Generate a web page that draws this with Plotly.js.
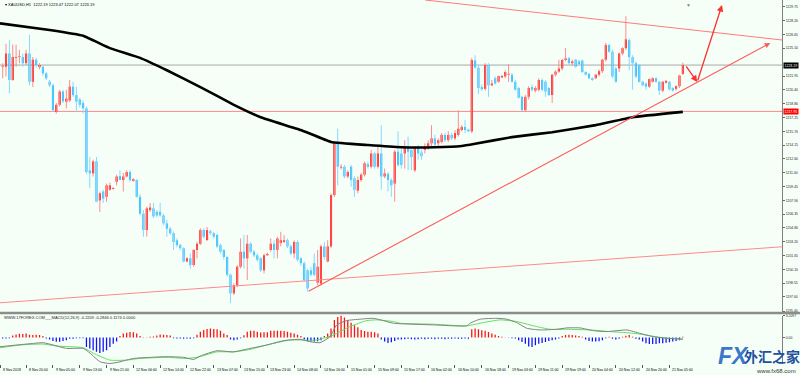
<!DOCTYPE html>
<html><head><meta charset="utf-8">
<script src="https://cdn.plot.ly/plotly-3.0.1.min.js"></script>
<style>html,body{margin:0;padding:0;background:#F5FFF8;}#chart{width:800px;height:375px;}</style>
</head><body><div id="chart"></div>
<script>
// ---- XAUUSD H1 candles (bar index 0..203) ----
const openP = [
1223.0,1223.0,1224.5,1221.5,1224.0,1224.1,1224.1,1223.4,1224.5,1221.3,
1223.8,1222.95,1223.0,1222.25,1221.3,1220.9,1217.9,1218.7,1220.2,1219.05,
1219.2,1220.75,1219.8,1219.3,1218.9,1218.3,1211.3,1210.95,1212.3,1207.9,
1208.9,1208.3,1209.1,1209.2,1210.0,1210.65,1210.2,1210.6,1211.1,1210.1,
1210.2,1208.3,1206.4,1204.55,1206.8,1207.0,1206.6,1206.6,1206.2,1205.3,
1204.7,1204.2,1203.4,1202.85,1202.5,1201.0,1201.35,1200.6,1202.3,1203.0,
1204.55,1203.4,1204.4,1204.2,1204.0,1202.85,1202.3,1201.5,1199.5,1197.4,
1198.3,1200.4,1202.1,1201.35,1203.0,1202.1,1201.7,1201.35,1200.0,1201.7,
1202.3,1203.0,1202.3,1203.1,1203.2,1203.4,1202.7,1201.9,1203.2,1201.35,
1200.8,1200.0,1200.0,1200.8,1198.6,1198.5,1202.7,1201.0,1202.7,1208.5,
1214.35,1211.6,1211.7,1210.6,1211.7,1210.4,1209.0,1210.2,1210.8,1212.0,
1211.7,1213.2,1211.7,1213.2,1210.6,1210.9,1210.2,1209.8,1213.4,1213.2,
1213.2,1214.0,1213.6,1211.3,1213.8,1213.3,1213.6,1214.0,1214.35,1214.9,
1214.35,1214.5,1215.3,1214.7,1215.3,1214.9,1215.3,1215.85,1216.2,1215.9,
1215.7,1223.7,1222.9,1220.7,1220.5,1223.2,1220.9,1221.7,1221.3,1221.8,
1221.9,1222.1,1222.1,1221.3,1220.6,1219.6,1218.1,1219.6,1220.7,1220.3,
1220.4,1221.5,1221.3,1220.6,1219.8,1222.1,1222.45,1222.8,1223.76,1223.95,
1223.4,1223.8,1223.6,1223.7,1222.4,1222.2,1221.7,1221.7,1222.1,1222.5,
1223.8,1225.45,1224.7,1222.8,1222.8,1224.5,1225.1,1226.0,1224.1,1223.4,
1223.2,1221.3,1221.1,1220.75,1221.3,1221.7,1221.3,1220.3,1221.2,1221.3,
1220.6,1220.5,1220.8,1222.19];
const highP = [
1223.4,1225.6,1226.0,1225.5,1225.5,1224.9,1224.5,1224.9,1226.6,1224.1,
1224.0,1223.4,1223.1,1222.4,1221.5,1221.1,1218.9,1220.4,1220.4,1220.4,
1221.5,1221.3,1220.75,1219.5,1219.2,1218.5,1212.8,1212.5,1212.8,1208.9,
1209.1,1209.8,1209.9,1209.4,1210.8,1211.3,1211.0,1211.3,1211.3,1210.4,
1210.3,1208.6,1206.8,1207.2,1207.6,1207.6,1206.8,1207.6,1206.4,1205.7,
1204.9,1204.4,1203.6,1203.0,1202.6,1201.5,1201.9,1202.4,1203.2,1204.75,
1204.75,1204.9,1204.6,1204.3,1204.1,1203.0,1202.4,1201.6,1199.65,1198.5,
1200.6,1203.6,1204.0,1204.0,1203.2,1202.3,1201.9,1201.5,1201.9,1202.0,
1203.6,1203.4,1203.8,1204.35,1204.0,1203.6,1202.9,1203.4,1203.4,1201.5,
1201.0,1200.2,1200.4,1201.9,1202.3,1202.9,1203.2,1203.4,1208.7,1214.5,
1216.0,1212.0,1211.9,1211.3,1211.9,1210.6,1210.6,1211.0,1212.3,1212.3,
1213.6,1213.4,1214.0,1216.4,1211.5,1211.1,1210.4,1213.6,1215.7,1213.8,
1214.7,1215.1,1213.8,1214.0,1214.2,1213.6,1214.35,1214.7,1216.4,1215.3,
1214.9,1215.5,1215.5,1215.7,1215.5,1215.85,1218.1,1216.4,1217.0,1216.0,
1224.0,1224.3,1223.2,1221.0,1223.4,1223.4,1221.5,1221.9,1222.0,1222.1,
1222.6,1223.3,1222.3,1221.5,1220.7,1219.7,1219.8,1220.8,1221.0,1220.8,
1221.7,1221.7,1221.5,1220.7,1222.2,1222.6,1223.8,1223.9,1225.1,1224.1,
1223.8,1223.9,1223.8,1223.8,1222.5,1222.3,1221.8,1222.2,1222.7,1223.9,
1225.7,1225.6,1224.9,1223.0,1224.6,1225.2,1228.7,1226.2,1224.3,1223.6,
1223.3,1221.4,1221.2,1221.7,1221.8,1221.8,1221.4,1221.4,1221.5,1221.4,
1220.7,1220.9,1222.1,1223.47];
const lowP = [
1221.7,1221.9,1220.0,1221.4,1223.0,1223.4,1223.0,1223.2,1220.9,1220.7,
1222.9,1222.7,1222.0,1221.5,1220.7,1217.9,1217.7,1218.5,1218.9,1218.3,
1219.0,1219.6,1217.9,1218.4,1217.7,1210.9,1209.3,1210.6,1207.7,1206.6,
1207.6,1207.75,1209.0,1209.1,1209.6,1210.2,1208.9,1210.5,1210.0,1210.0,
1208.2,1206.2,1203.8,1203.8,1206.6,1205.9,1206.0,1206.05,1205.1,1203.8,
1204.0,1202.3,1202.6,1202.3,1200.9,1200.9,1200.2,1200.4,1201.35,1202.85,
1203.6,1203.4,1204.0,1203.6,1202.5,1201.9,1201.2,1199.3,1196.3,1197.2,
1198.1,1200.2,1200.2,1198.9,1201.9,1201.5,1201.0,1199.8,1199.65,1201.6,
1202.1,1201.35,1201.35,1202.7,1203.1,1202.5,1201.7,1201.35,1201.0,1200.5,
1198.7,1197.6,1199.3,1199.3,1198.3,1198.3,1201.2,1200.9,1202.5,1208.3,
1209.6,1211.4,1210.4,1210.4,1209.45,1208.3,1208.7,1210.0,1210.6,1211.5,
1211.5,1211.5,1211.5,1209.1,1210.4,1208.9,1208.3,1207.75,1211.7,1211.5,
1211.5,1211.3,1211.3,1211.1,1212.5,1212.5,1213.2,1213.6,1213.8,1214.0,
1214.0,1214.35,1214.5,1214.5,1214.7,1214.7,1215.1,1215.7,1215.5,1215.6,
1215.5,1222.8,1219.9,1220.3,1220.3,1219.6,1220.8,1221.0,1221.2,1221.7,
1221.7,1221.3,1221.2,1220.3,1219.4,1218.0,1217.9,1219.3,1220.2,1220.1,
1220.2,1220.2,1219.6,1219.7,1218.9,1221.9,1222.3,1222.6,1223.6,1223.2,
1223.1,1222.9,1223.2,1222.3,1222.0,1221.6,1221.4,1221.6,1221.9,1222.3,
1223.6,1224.6,1221.7,1221.2,1222.4,1224.3,1224.9,1222.6,1220.4,1221.7,
1221.2,1220.8,1220.4,1220.6,1221.2,1221.2,1219.8,1220.1,1221.1,1220.3,
1220.2,1220.3,1220.6,1222.07];
const closeP = [
1223.05,1224.5,1221.5,1224.1,1224.1,1224.15,1223.4,1224.5,1221.3,1223.8,
1223.2,1223.2,1222.25,1221.7,1220.9,1218.1,1218.7,1220.2,1219.1,1219.4,
1220.75,1219.8,1219.05,1218.7,1218.3,1211.1,1210.95,1212.3,1207.75,1208.7,
1208.1,1209.6,1209.6,1209.3,1210.6,1210.2,1210.6,1211.1,1210.2,1210.3,
1208.3,1206.4,1204.55,1207.0,1207.1,1206.1,1206.2,1206.2,1205.3,1204.7,
1204.2,1203.2,1202.85,1202.5,1201.0,1201.35,1200.6,1202.3,1203.0,1204.55,
1203.8,1204.55,1204.2,1203.8,1202.7,1202.1,1201.5,1199.5,1197.4,1198.3,
1200.4,1202.1,1201.35,1203.0,1202.1,1201.7,1201.2,1200.0,1201.7,1201.85,
1203.0,1202.3,1203.6,1203.4,1203.4,1202.7,1201.9,1203.2,1201.2,1200.8,
1198.9,1197.95,1199.5,1199.5,1200.4,1202.7,1201.5,1202.7,1208.5,1214.35,
1211.7,1211.7,1210.6,1211.1,1210.2,1209.1,1210.2,1210.8,1212.1,1211.7,
1213.2,1211.7,1213.2,1210.6,1210.95,1210.2,1209.6,1213.4,1211.9,1211.9,
1214.0,1213.4,1212.8,1213.8,1213.2,1212.9,1213.97,1214.35,1214.9,1214.2,
1214.7,1215.3,1214.7,1215.3,1214.9,1215.5,1216.0,1216.2,1215.85,1215.7,
1223.76,1222.9,1220.6,1220.45,1223.2,1220.9,1221.1,1221.1,1221.95,1221.95,
1222.4,1222.2,1221.3,1220.4,1219.5,1218.1,1219.6,1220.6,1220.4,1220.6,
1221.5,1220.4,1220.2,1219.8,1222.1,1222.45,1222.8,1223.76,1223.95,1223.4,
1223.6,1223.0,1223.3,1222.4,1222.1,1221.7,1221.5,1222.1,1222.5,1223.8,
1225.45,1224.7,1221.9,1221.3,1224.5,1225.1,1226.1,1224.1,1223.4,1221.9,
1221.3,1220.9,1220.75,1221.6,1221.7,1221.3,1220.3,1221.3,1221.4,1220.45,
1220.3,1220.8,1222.0,1223.19];

// ---- moving average (black), read at selected bars ----
const maIdx = [-0.8,14,24,32,41,49,59,69,77,89,98,109,119,129,137,141,152,164,177,188,203];
const maVal = [1227.9,1227.15,1226.5,1225.1,1224.0,1222.6,1220.7,1218.7,1217.3,1215.85,1214.5,1214.15,1213.9,1213.9,1214.05,1214.3,1215.05,1215.6,1216.4,1217.3,1217.9];

// ---- MACD histogram (one value per bar) ----
const macdHist = [
-0.15,-0.15,-0.1,0.3,0.45,0.55,0.5,0.6,0.4,0.35,
0.4,0.35,0.2,-0.15,-0.3,-0.5,-0.64,-0.64,-0.5,-0.4,
-0.2,-0.2,-0.1,-0.1,-0.1,-1.4,-1.6,-1.85,-2.1,-2.25,
-2.1,-1.85,-1.4,-0.9,-0.6,0.2,0.6,0.7,0.8,0.75,
0.6,0.2,-0.05,0.05,0.1,0.15,0.3,0.45,0.4,0.35,
0.3,-0.1,-0.15,-0.15,-0.2,-0.15,-0.2,-0.1,0.4,0.85,
1.1,1.25,1.3,1.25,1.2,1.0,0.6,0.35,-0.3,-0.4,
-0.3,-0.1,0.34,0.83,0.98,0.98,0.83,0.73,0.78,0.78,
0.98,0.98,0.98,0.98,0.93,0.83,0.68,0.59,0.39,0.2,
-0.3,-0.55,-0.6,-0.6,-0.55,-0.4,0.2,0.6,1.3,2.55,
3.0,3.2,2.9,2.55,2.15,1.8,1.5,1.1,0.95,0.85,
0.85,0.75,0.6,-0.3,-0.6,-0.8,-0.7,-0.5,-0.3,-0.3,
-0.25,-0.2,-0.25,-0.3,-0.25,-0.2,-0.25,-0.2,-0.2,-0.25,
-0.2,-0.2,-0.25,-0.2,-0.2,-0.15,-0.2,-0.2,-0.15,-0.2,
1.2,1.3,1.2,1.05,1.0,0.8,0.6,0.4,0.2,0.1,
0.05,-0.05,-0.1,-0.15,-0.4,-0.65,-0.9,-1.3,-1.4,-1.15,
-0.9,-0.8,-0.65,-0.5,-0.4,-0.3,-0.15,0.2,0.35,0.4,
0.35,0.3,0.2,0.1,-0.3,-0.5,-0.6,-0.6,-0.55,-0.4,
-0.1,0.1,-0.2,-0.3,-0.2,0.1,0.25,0.35,0.1,-0.2,
-0.3,-0.6,-0.85,-0.95,-0.95,-0.95,-0.85,-0.85,-0.75,-0.7,
-0.6,-0.5,-0.4,0.1174];

// ---- MACD main line (gray) and signal (green), read at selected bars ----
const macdIdx = [-0.8,4.2,9.2,12.1,15.1,19.1,24.1,26.1,29.1,32,35,39,44,49,54,57,59,63.9,68.9,73.8,78.8,83.8,88.8,91.7,94.7,97.7,99.7,102.7,106.7,110.6,113.6,116.6,128.6,138.5,139.5,142.5,147.5,150.5,153.4,156.4,160.4,165.4,168.4,172.3,176.3,180.3,186.3,190.2,194.2,198.2,203];
const macdVal = [-1.35,-1.1,-0.86,-0.76,-1.1,-1.6,-1.6,-2.3,-3.55,-3.8,-3.55,-3.06,-2.9,-2.8,-2.9,-3.2,-2.7,-1.94,-2.1,-1.6,-1.1,-0.47,-0.27,-0.61,-0.76,0.12,1.84,2.47,2.67,2.8,2.47,2.08,1.84,1.7,2.08,2.67,2.8,2.67,2.18,1.35,1.1,1.2,1.4,1.4,1.0,0.86,1.1,0.6,0.12,-0.12,-0.2209];
const sigIdx = [-0.8,5.2,12.1,16.1,24.1,27.1,32,37,41,49,54.9,58.9,63.9,68.9,73.8,78.8,85.8,93.7,98.7,103.7,108.7,111.6,116.6,118.6,128.6,138.5,143.5,148.5,153.4,158.4,163.4,168.4,175.3,181.3,186.3,190.2,196.2,203];
const sigVal = [-1.5,-1.1,-0.96,-1.25,-1.5,-2.3,-3.3,-3.3,-3.06,-2.9,-3.06,-2.8,-2.1,-2.1,-1.75,-1.1,-0.37,-0.37,0.37,1.6,2.47,2.57,2.33,2.08,1.94,1.7,2.18,2.57,2.33,1.7,1.2,1.2,1.1,0.86,0.7,0.5,0.02,-0.2846];

// ---- axis labels ----
const priceTicks = [1229.75,1228.20,1226.65,1225.10,1221.95,1220.40,1218.80,1217.25,1215.70,1214.15,1212.60,1211.00,1209.45,1207.90,1206.35,1204.80,1203.20,1201.65,1200.10,1198.55,1197.00,1195.40];
const priceTickText = ["1229.75","1228.20","1226.65","1225.10","1221.95","1220.40","1218.80","1217.25","1215.70","1214.15","1212.60","1211.00","1209.45","1207.90","1206.35","1204.80","1203.20","1201.65","1200.10","1198.55","1197.00","1195.40"];
const timeIdx = [-0.75,7,15,23,31,39,47,55,63,71,79,87,95,103,111,119,127,135,143,151,159,167,175,183,191,199];
const timeText = ["8 Nov 2018","8 Nov 20:00","9 Nov 05:00","9 Nov 13:00","9 Nov 21:00","12 Nov 06:00","12 Nov 14:00","12 Nov 22:00","13 Nov 07:00","13 Nov 15:00","13 Nov 23:00","14 Nov 08:00","14 Nov 16:00","15 Nov 01:00","15 Nov 09:00","15 Nov 17:00","16 Nov 02:00","16 Nov 10:00","16 Nov 18:00","19 Nov 03:00","19 Nov 11:00","19 Nov 19:00","20 Nov 04:00","20 Nov 12:00","20 Nov 20:00","21 Nov 05:00"];

const currentPrice = 1223.19;
const levelPrice = 1217.95;

// ---- drawing objects (bar index, price) ----
const lineTop = [[126.1,1230.54],[232.6,1226.02]];
const lineLow = [[-0.8,1196.33],[232.6,1202.66]];
const lineUp  = [[90.85,1197.54],[229.1,1225.68]];
const arrowPath = [[203.7,1223.2],[207.3,1221.27],[214.7,1229.98]];

const N = openP.length;
function wick(up){
  const xs=[],ys=[];
  for(let i=0;i<N;i++){ const u = closeP[i]>=openP[i]; if(u!==up) continue; xs.push(i,i,null); ys.push(lowP[i],highP[i],null); }
  return {type:'scatter',mode:'lines',x:xs,y:ys,line:{color:up?'#FF8C8C':'#88D8FF',width:1},hoverinfo:'skip',xaxis:'x',yaxis:'y'};
}
function body(up){
  const xs=[],b=[],h=[];
  for(let i=0;i<N;i++){ const u = closeP[i]>=openP[i]; if(u!==up) continue; xs.push(i); b.push(Math.min(openP[i],closeP[i])); h.push(Math.max(Math.abs(closeP[i]-openP[i]),0.09)); }
  return {type:'bar',x:xs,y:h,base:b,width:0.62,marker:{color:up?'#FF0000':'#12B4FF',line:{width:0}},hoverinfo:'skip',xaxis:'x',yaxis:'y'};
}
function hist(pos){
  const xs=[],ys=[];
  for(let i=0;i<macdHist.length;i++){ if((macdHist[i]>0)!==pos) continue; xs.push(i); ys.push(macdHist[i]); }
  return {type:'bar',x:xs,y:ys,width:0.38,marker:{color:pos?'#FF1010':'#1010FF',line:{width:0}},hoverinfo:'skip',xaxis:'x',yaxis:'y2'};
}
const traces = [
  wick(true), wick(false), body(true), body(false),
  {type:'scatter',mode:'lines',x:maIdx,y:maVal,line:{color:'#000',width:2.6,shape:'spline',smoothing:0.3},hoverinfo:'skip',xaxis:'x',yaxis:'y'},
  hist(true), hist(false),
  {type:'scatter',mode:'lines',x:sigIdx,y:sigVal,line:{color:'#5EE05E',width:1,shape:'spline',smoothing:0.5},hoverinfo:'skip',xaxis:'x',yaxis:'y2'},
  {type:'scatter',mode:'lines',x:macdIdx,y:macdVal,line:{color:'#808080',width:1,shape:'spline',smoothing:0.5},hoverinfo:'skip',xaxis:'x',yaxis:'y2'}
];

const PH = 364; // plot height in px
const shapes = [
  {type:'line',xref:'paper',yref:'y',x0:0,x1:1,y0:currentPrice,y1:currentPrice,line:{color:'#A8A8A8',width:1},layer:'below'},
  {type:'line',xref:'paper',yref:'y',x0:0,x1:1,y0:levelPrice,y1:levelPrice,line:{color:'#FF8A8A',width:1},layer:'below'},
  {type:'line',xref:'x',yref:'y',x0:lineTop[0][0],y0:lineTop[0][1],x1:lineTop[1][0],y1:lineTop[1][1],line:{color:'#FF7A7A',width:1}},
  {type:'line',xref:'x',yref:'y',x0:lineLow[0][0],y0:lineLow[0][1],x1:lineLow[1][0],y1:lineLow[1][1],line:{color:'#FF8A8A',width:1}},
  {type:'line',xref:'paper',yref:'paper',x0:0,x1:1.03,y0:(PH-313)/PH,y1:(PH-313)/PH,line:{color:'#8C8C8C',width:2.5}}
];

const fnt = 'Liberation Sans, Arial, sans-serif';
const annotations = [
  {xref:'paper',yref:'paper',x:3/782,y:(PH-5)/PH,xanchor:'left',yanchor:'middle',showarrow:false,text:'▾ XAUUSD,H1  1222.19 1223.47 1222.07 1223.19',font:{size:4,color:'#000',family:fnt}},
  {xref:'paper',yref:'paper',x:2/782,y:(PH-317.5)/PH,xanchor:'left',yanchor:'middle',showarrow:false,text:'WWW.17FOREX.COM___MACD(12,26,9) -0.2209 -0.2846 0.1174 0.0000',font:{size:4,color:'#222',family:fnt}},
  {xref:'paper',yref:'y',x:1,xshift:1,y:currentPrice,xanchor:'left',yanchor:'middle',showarrow:false,text:'1223.19',bgcolor:'#000',borderpad:0.5,font:{size:3.5,color:'#fff',family:fnt}},
  {xref:'paper',yref:'y',x:1,xshift:1,y:levelPrice,xanchor:'left',yanchor:'middle',showarrow:false,text:'1217.95',bgcolor:'#FF0000',borderpad:0.5,font:{size:3.5,color:'#fff',family:fnt}},
  {xref:'x',yref:'paper',x:204.6,y:1,yanchor:'top',showarrow:false,text:'▼',font:{size:5,color:'#888'}},
  {xref:'x',yref:'y',axref:'x',ayref:'y',x:arrowPath[1][0],y:arrowPath[1][1],ax:arrowPath[0][0],ay:arrowPath[0][1],showarrow:true,arrowhead:2,arrowsize:1,arrowwidth:1.3,arrowcolor:'#FF3030',text:''},
  {xref:'x',yref:'y',axref:'x',ayref:'y',x:arrowPath[2][0],y:arrowPath[2][1],ax:arrowPath[1][0],ay:arrowPath[1][1],showarrow:true,arrowhead:2,arrowsize:1,arrowwidth:1.3,arrowcolor:'#FF3030',text:''},
  {xref:'x',yref:'y',axref:'x',ayref:'y',x:lineUp[1][0],y:lineUp[1][1],ax:lineUp[0][0],ay:lineUp[0][1],showarrow:true,arrowhead:2,arrowsize:1,arrowwidth:1.1,arrowcolor:'#FF5A5A',text:''},
  // watermark
  {xref:'paper',yref:'paper',x:733/782,y:(PH-356)/PH,xanchor:'center',yanchor:'middle',showarrow:false,text:'<b><i>FX</i></b>',font:{size:23,color:'#3B78C8',family:'Liberation Sans, Arial, sans-serif'}},
  {xref:'paper',yref:'paper',x:772/782,y:(PH-356)/PH,xanchor:'center',yanchor:'middle',showarrow:false,text:'<b>外汇之家</b>',font:{size:14,color:'#1F4F9E',family:'Noto Sans CJK SC, sans-serif'}},
  {xref:'paper',yref:'paper',x:776/782,y:(PH-371)/PH,xanchor:'center',yanchor:'middle',showarrow:false,text:'www.fx68.com',font:{size:6,color:'#333',family:fnt}}
];
for(let k=0;k<timeIdx.length;k++){
  annotations.push({xref:'x',yref:'paper',x:timeIdx[k],xshift:1,y:(PH-370)/PH,xanchor:'left',yanchor:'middle',showarrow:false,text:timeText[k],font:{size:3.5,color:'#000',family:fnt}});
}

const layout = {
  width:800,height:375,margin:{l:0,r:18,t:0,b:11},
  paper_bgcolor:'#F5FFF8',plot_bgcolor:'#F5FFF8',
  showlegend:false,barmode:'overlay',hovermode:false,
  font:{family:fnt,size:3.5,color:'#000'},
  xaxis:{domain:[0,1],range:[-0.8,232.6],anchor:'y2',showgrid:false,zeroline:false,showticklabels:false,
         ticks:'outside',ticklen:3,tickwidth:1,tickcolor:'#555',tickvals:timeIdx,showline:false,fixedrange:true},
  yaxis:{domain:[(PH-312)/PH,1],range:[1195.29,1230.54],side:'right',anchor:'x',showgrid:false,zeroline:false,
         tickvals:priceTicks,ticktext:priceTickText,ticks:'outside',ticklen:2,tickcolor:'#666',
         tickfont:{size:3.4,color:'#222',family:fnt},showline:true,linecolor:'#808080',linewidth:1,fixedrange:true},
  yaxis2:{domain:[0,(PH-315.5)/PH],range:[-3.87,3.2097],side:'right',anchor:'x',showgrid:false,zeroline:false,
         tickvals:[3.2097,0],ticktext:['3.2097','0.00'],ticks:'outside',ticklen:2,tickcolor:'#666',
         tickfont:{size:3.4,color:'#222',family:fnt},showline:true,linecolor:'#808080',linewidth:1,fixedrange:true},
  shapes:shapes,annotations:annotations
};
Plotly.newPlot('chart',traces,layout,{staticPlot:true,displayModeBar:false});
</script>
</body></html>
